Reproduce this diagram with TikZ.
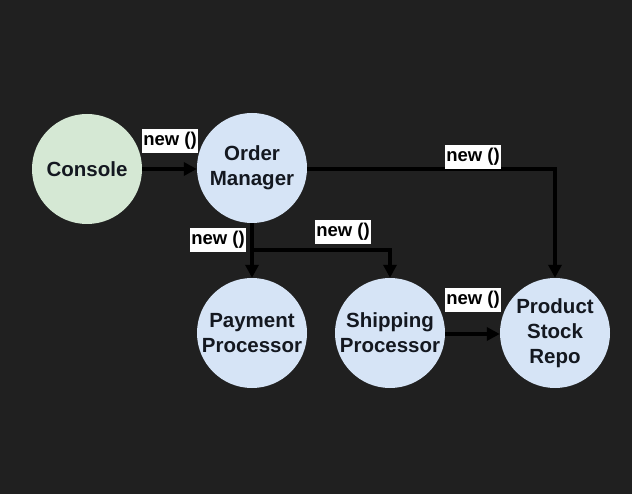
\documentclass[tikz,border=0pt]{standalone}
\usepackage{fontspec}
\setmainfont{Liberation Sans}
\usetikzlibrary{arrows.meta}
\definecolor{bg}{HTML}{202020}
\definecolor{greenfill}{HTML}{D5E8D4}
\definecolor{bluefill}{HTML}{D6E4F6}
\definecolor{txt}{HTML}{141820}
\tikzset{
  circ/.style={circle, minimum size=110pt, inner sep=0pt, align=center, text=txt,
    font=\fontsize{20.5}{25}\selectfont\bfseries},
  lbl/.style={fill=white, text=black, inner xsep=1.5pt, inner ysep=3pt,
    font=\fontsize{18.5}{21}\selectfont\bfseries},
  arr/.style={line width=3.5pt, black, -{Triangle[length=13pt,width=13pt]}},
  ln/.style={line width=3.5pt, black}
}
\begin{document}
\begin{tikzpicture}[x=1pt,y=-1pt]
\fill[bg] (0,0) rectangle (632,494);
\useasboundingbox (0,0) rectangle (632,494);
\node[circ, fill=greenfill] (con) at (87,169) {Console};
\node[circ, fill=bluefill] (om) at (252,168) {Order\\Manager};
\node[circ, fill=bluefill] (pp) at (252,333) {Payment\\Processor};
\node[circ, fill=bluefill] (sp) at (390,333) {Shipping\\Processor};
\node[circ, fill=bluefill] (psr) at (555,333) {Product\\Stock\\Repo};
\coordinate (br) at (252,250);
\coordinate (omr) at (307,169);
\draw[arr] (con.east |- 0,169) -- (om.west |- 0,169);
\draw[arr] (omr) -| (psr.north);
\draw[arr] (om.south) -- (pp.north);
\draw[arr] (br) -| (sp.north);
\draw[arr] (sp.east |- 0,334) -- (psr.west |- 0,334);
\node[lbl] (l1) at (170,141) {new ()};
\node[lbl] (l2) at (473,157) {new ()};
\node[lbl] (l3) at (218,240) {new ()};
\node[lbl] (l4) at (343,232) {new ()};
\node[lbl] (l5) at (473,300) {new ()};
\end{tikzpicture}
\end{document}
